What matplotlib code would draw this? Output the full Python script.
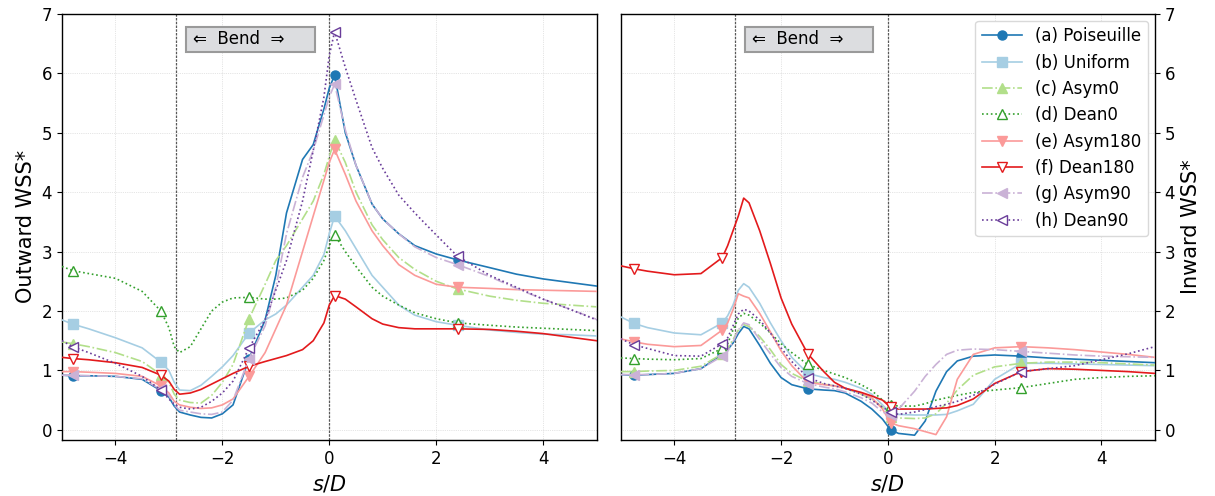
import numpy as np
import matplotlib.pyplot as plt
from matplotlib.patches import Rectangle

# Paired palette
COLORS = ["#1f78b4", "#a6cee3", "#b2df8a", "#33a02c", "#fb9a99", "#e31a1c", "#cab2d6", "#6a3d9a"]
LABELS = ["(a) Poiseuille", "(b) Uniform", "(c) Asym0", "(d) Dean0",
          "(e) Asym180", "(f) Dean180", "(g) Asym90", "(h) Dean90"]
STYLES = ["-", "-", "-.", ":", "-", "-", "-.", ":"]
MARKERS = ["o", "s", "^", "^", "v", "v", "<", "<"]
OPEN = [False, False, False, True, False, True, False, True]

BEND_START = -2.87

# ---- Outward wall (left panel) ----
s_out = [-5, -4.8, -4.5, -4, -3.5, -3.15, -3.0, -2.9, -2.8, -2.6, -2.4, -2.2, -2.0, -1.8,
         -1.5, -1.2, -1.0, -0.8, -0.5, -0.3, -0.1, 0.0, 0.1, 0.3, 0.5, 0.8, 1.0, 1.3, 1.6,
         2.0, 2.4, 3.0, 3.5, 4.0, 4.5, 5.0]
mark_out = [1, 5, 14, 22, 30]

out_a = [0.92, 0.91, 0.91, 0.90, 0.85, 0.66, 0.55, 0.40, 0.30, 0.25, 0.21, 0.20, 0.27, 0.42,
         1.20, 1.85, 2.60, 3.65, 4.55, 4.80, 5.40, 5.75, 5.97, 5.00, 4.45, 3.80, 3.55, 3.30, 3.10,
         2.96, 2.86, 2.73, 2.62, 2.54, 2.48, 2.42]
out_b = [1.85, 1.78, 1.70, 1.55, 1.38, 1.14, 1.00, 0.80, 0.67, 0.66, 0.75, 0.90, 1.06, 1.25,
         1.63, 1.85, 1.95, 2.10, 2.40, 2.60, 2.95, 3.30, 3.60, 3.35, 3.05, 2.60, 2.40, 2.10, 1.93,
         1.82, 1.76, 1.68, 1.64, 1.61, 1.60, 1.58]
out_c = [1.48, 1.45, 1.40, 1.30, 1.15, 0.93, 0.80, 0.60, 0.50, 0.46, 0.45, 0.58, 0.80, 1.10,
         1.87, 2.45, 2.85, 3.10, 3.55, 3.85, 4.30, 4.60, 4.88, 4.50, 4.00, 3.45, 3.20, 2.90, 2.70,
         2.50, 2.37, 2.25, 2.18, 2.13, 2.10, 2.07]
out_d = [2.75, 2.68, 2.63, 2.55, 2.33, 2.00, 1.72, 1.40, 1.30, 1.40, 1.70, 2.00, 2.15, 2.22,
         2.23, 2.20, 2.20, 2.22, 2.35, 2.55, 2.85, 3.10, 3.28, 3.00, 2.75, 2.40, 2.25, 2.10, 1.97,
         1.87, 1.80, 1.76, 1.73, 1.71, 1.69, 1.67]
out_e = [0.98, 0.98, 0.97, 0.95, 0.90, 0.74, 0.62, 0.48, 0.42, 0.38, 0.36, 0.37, 0.42, 0.52,
         0.90, 1.30, 1.70, 2.10, 3.00, 3.60, 4.20, 4.50, 4.72, 4.30, 3.85, 3.35, 3.10, 2.78, 2.60,
         2.45, 2.40, 2.38, 2.36, 2.35, 2.34, 2.33]
out_f = [1.22, 1.20, 1.18, 1.13, 1.05, 0.92, 0.82, 0.68, 0.60, 0.62, 0.68, 0.77, 0.86, 0.95,
         1.07, 1.15, 1.20, 1.25, 1.35, 1.50, 1.80, 2.10, 2.26, 2.20, 2.07, 1.87, 1.78, 1.72, 1.70,
         1.70, 1.70, 1.69, 1.66, 1.62, 1.56, 1.50]
out_g = [0.92, 0.92, 0.91, 0.90, 0.86, 0.68, 0.58, 0.42, 0.33, 0.30, 0.27, 0.26, 0.30, 0.50,
         1.20, 1.75, 2.40, 3.30, 4.25, 4.70, 5.30, 5.60, 5.82, 5.05, 4.45, 3.80, 3.55, 3.30, 3.08,
         2.90, 2.78, 2.58, 2.38, 2.20, 2.03, 1.86]
out_h = [1.50, 1.40, 1.30, 1.12, 0.90, 0.67, 0.52, 0.43, 0.38, 0.35, 0.38, 0.48, 0.62, 0.82,
         1.38, 1.85, 2.35, 2.85, 3.85, 4.70, 5.60, 6.30, 6.70, 6.10, 5.55, 4.75, 4.40, 3.95, 3.65,
         3.28, 2.92, 2.60, 2.40, 2.20, 2.03, 1.85]

# ---- Inward wall (right panel) ----
s_in = [-5, -4.75, -4.5, -4, -3.5, -3.1, -3.0, -2.9, -2.8, -2.7, -2.6, -2.4, -2.2, -2.0, -1.8,
        -1.5, -1.2, -1.0, -0.8, -0.5, -0.3, -0.1, 0.05, 0.2, 0.5, 0.7, 0.9, 1.1, 1.3, 1.6, 2.0,
        2.5, 3.0, 3.5, 4.0, 4.5, 5.0]
mark_in = [1, 5, 15, 22, 31]

in_a = [0.93, 0.92, 0.93, 0.95, 1.03, 1.27, 1.35, 1.46, 1.62, 1.74, 1.70, 1.42, 1.12, 0.88, 0.76,
        0.69, 0.67, 0.66, 0.62, 0.48, 0.35, 0.18, 0.00, -0.06, -0.09, 0.15, 0.65, 0.98, 1.16, 1.24,
        1.26, 1.24, 1.21, 1.19, 1.17, 1.15, 1.13]
in_b = [1.90, 1.79, 1.72, 1.63, 1.60, 1.80, 1.92, 2.10, 2.35, 2.46, 2.40, 2.13, 1.80, 1.50, 1.22,
        0.95, 0.88, 0.85, 0.80, 0.70, 0.60, 0.42, 0.28, 0.26, 0.25, 0.25, 0.25, 0.26, 0.32, 0.43,
        0.85, 1.12, 1.12, 1.11, 1.10, 1.09, 1.08]
in_c = [0.98, 0.98, 0.99, 1.00, 1.07, 1.28, 1.37, 1.52, 1.68, 1.77, 1.74, 1.57, 1.35, 1.10, 0.95,
        0.82, 0.77, 0.74, 0.70, 0.60, 0.52, 0.38, 0.22, 0.20, 0.19, 0.20, 0.27, 0.45, 0.67, 0.92,
        1.06, 1.12, 1.14, 1.14, 1.13, 1.11, 1.09]
in_d = [1.21, 1.20, 1.19, 1.18, 1.20, 1.37, 1.45, 1.68, 1.88, 1.96, 1.93, 1.80, 1.63, 1.45, 1.30,
        1.10, 1.00, 0.94, 0.88, 0.76, 0.66, 0.50, 0.42, 0.40, 0.40, 0.44, 0.50, 0.54, 0.58, 0.63,
        0.67, 0.71, 0.78, 0.85, 0.88, 0.90, 0.91]
in_e = [1.53, 1.48, 1.44, 1.40, 1.42, 1.68, 1.80, 2.02, 2.29, 2.25, 2.22, 1.96, 1.65, 1.33, 1.08,
        0.80, 0.76, 0.74, 0.70, 0.62, 0.54, 0.35, 0.12, 0.07, 0.02, -0.03, -0.08, 0.22, 0.85, 1.27,
        1.38, 1.40, 1.38, 1.35, 1.31, 1.27, 1.22]
in_f = [2.76, 2.71, 2.67, 2.61, 2.63, 2.90, 3.10, 3.35, 3.60, 3.90, 3.82, 3.35, 2.80, 2.22, 1.78,
        1.28, 0.98, 0.80, 0.70, 0.63, 0.57, 0.50, 0.38, 0.35, 0.35, 0.35, 0.36, 0.37, 0.41, 0.52,
        0.78, 0.98, 1.03, 1.02, 1.00, 0.98, 0.95]
in_g = [0.93, 0.93, 0.93, 0.95, 1.03, 1.24, 1.32, 1.48, 1.68, 1.80, 1.77, 1.52, 1.28, 1.05, 0.90,
        0.78, 0.72, 0.69, 0.64, 0.54, 0.45, 0.30, 0.25, 0.35, 0.65, 0.90, 1.10, 1.27, 1.34, 1.36,
        1.35, 1.32, 1.29, 1.26, 1.24, 1.23, 1.22]
in_h = [1.53, 1.43, 1.37, 1.25, 1.24, 1.45, 1.55, 1.75, 1.95, 2.03, 2.00, 1.85, 1.63, 1.38, 1.15,
        0.88, 0.78, 0.74, 0.70, 0.60, 0.50, 0.38, 0.30, 0.26, 0.30, 0.34, 0.39, 0.43, 0.48, 0.58,
        0.77, 0.98, 1.03, 1.08, 1.18, 1.28, 1.40]

outward = [out_a, out_b, out_c, out_d, out_e, out_f, out_g, out_h]
inward = [in_a, in_b, in_c, in_d, in_e, in_f, in_g, in_h]

fig = plt.figure(figsize=(12.15, 4.96), dpi=100)
ax1 = fig.add_axes([0.051, 0.113, 0.440, 0.859])
ax2 = fig.add_axes([0.511, 0.113, 0.4395, 0.859])


def draw_panel(ax, s, series, marks):
    for y, c, ls, m, op, lab in zip(series, COLORS, STYLES, MARKERS, OPEN, LABELS):
        ax.plot(s, y, color=c, ls=ls, lw=1.2, marker=m, markevery=marks, ms=6.5,
                mfc="white" if op else c, mec=c, mew=1.0, label=lab, zorder=3)
    ax.axvline(BEND_START, color="0.35", ls=(0, (2, 1)), lw=0.9, zorder=2)
    ax.axvline(0, color="0.35", ls=(0, (2, 1)), lw=0.9, zorder=2)
    ax.set_xlim(-5, 5)
    ax.set_ylim(-0.17, 7)
    ax.set_xticks([-4, -2, 0, 2, 4])
    ax.set_yticks(range(8))
    ax.grid(True, ls=":", lw=0.5, color="0.8")
    ax.tick_params(labelsize=12)
    for sp in ax.spines.values():
        sp.set_linewidth(1.0)
    ax.set_xlabel("$s/D$", fontsize=15)
    ax.add_patch(Rectangle((0.232, 0.911), 0.241, 0.058, transform=ax.transAxes,
                           facecolor="#dcdde0", edgecolor="#9a9a9a", lw=1.5, zorder=4))
    ax.text(0.246, 0.941, "⇐  Bend  ⇒", transform=ax.transAxes, ha="left", va="center",
            fontsize=12, zorder=5)


draw_panel(ax1, s_out, outward, mark_out)
draw_panel(ax2, s_in, inward, mark_in)

ax1.set_ylabel("Outward WSS*", fontsize=15)
ax2.yaxis.tick_right()
ax2.yaxis.set_label_position("right")
ax2.set_ylabel("Inward WSS*", fontsize=15)

ax2.legend(loc="upper right", fontsize=12, framealpha=1, edgecolor="0.85",
           borderaxespad=0.4, handlelength=2.4, labelspacing=0.5)

fig.savefig("out.png", dpi=100)
